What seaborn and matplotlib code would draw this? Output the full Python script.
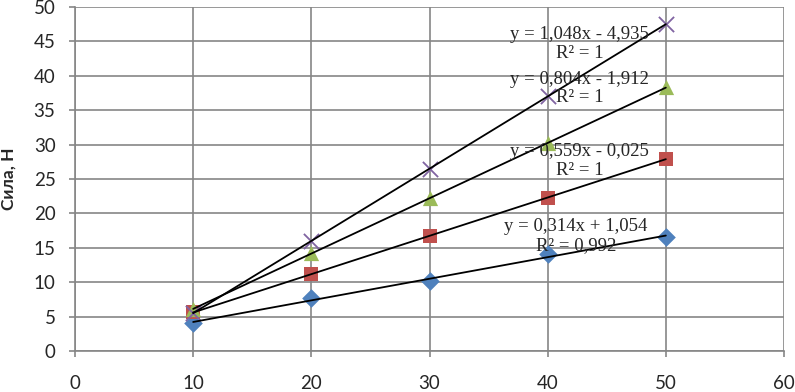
import numpy as np
import seaborn as sns
import matplotlib.pyplot as plt

# Data
x_vals = [10, 20, 30, 40, 50]
blue_y = [4.0, 7.7, 10.2, 14.1, 16.5]
red_y = [5.6, 11.2, 16.7, 22.3, 27.9]
green_y = [6.1, 14.2, 22.2, 30.2, 38.3]
purple_y = [5.5, 16.0, 26.5, 37.0, 47.5]

series_y = [blue_y, red_y, green_y, purple_y]
colors = ["#4F81BD", "#C0504D", "#9BBB59", "#8064A2"]
markers = ["D", "s", "^", "x"]
sizes = [90, 110, 120, 120]

eq_texts = [
    "y = 0,314x + 1,054\nR² = 0,992",
    "y = 0,559x - 0,025\nR² = 1",
    "y = 0,804x - 1,912\nR² = 1",
    "y = 1,048x - 4,935\nR² = 1",
]
eq_pos = [(42.4, 16.7), (42.7, 27.6), (42.7, 38.15), (42.7, 44.6)]

sns.set_style("white")
tick_font = "Lato"

fig, ax = plt.subplots(figsize=(7.95, 3.92), dpi=100)
fig.subplots_adjust(left=75 / 795, right=784 / 795, bottom=1 - 351 / 392, top=1 - 7 / 392)

for ys, c, m, s in zip(series_y, colors, markers, sizes):
    if m == "x":
        sns.scatterplot(x=x_vals, y=ys, marker=m, color=c, s=s, linewidth=1.3,
                        ax=ax, zorder=2)
    else:
        sns.scatterplot(x=x_vals, y=ys, marker=m, color=c, s=s, linewidth=0,
                        ax=ax, zorder=2)

# trendlines
for ys in series_y:
    sns.regplot(x=np.array(x_vals), y=np.array(ys), scatter=False, ci=None,
                color="black", line_kws={"linewidth": 1.3, "zorder": 3}, ax=ax)

for txt, (tx, ty) in zip(eq_texts, eq_pos):
    ax.text(tx, ty, txt, ha="center", va="center", fontsize=13.5,
            family="Liberation Serif", linespacing=1.12, zorder=4)

ax.set_xlim(0, 60)
ax.set_ylim(0, 50)
ax.set_xticks(range(0, 61, 10))
ax.set_yticks(range(0, 51, 5))
ax.grid(True, color="#868686", linewidth=1.2)
ax.set_axisbelow(True)
for side in ["top", "right"]:
    ax.spines[side].set_visible(False)
for side in ["left", "bottom"]:
    ax.spines[side].set_color("#868686")
    ax.spines[side].set_linewidth(1.2)
ax.tick_params(axis="both", direction="out", length=4, color="#868686", width=1.2,
               labelsize=13.5, left=True, bottom=True)
ax.tick_params(axis="x", pad=13)
ax.tick_params(axis="y", pad=10)
for lab in ax.get_xticklabels() + ax.get_yticklabels():
    lab.set_family(tick_font)
ax.set_xlabel("")
ax.set_ylabel("Сила, Н", fontsize=12.5, fontweight="bold", family=tick_font, labelpad=12)

fig.savefig("out.png", dpi=100)
